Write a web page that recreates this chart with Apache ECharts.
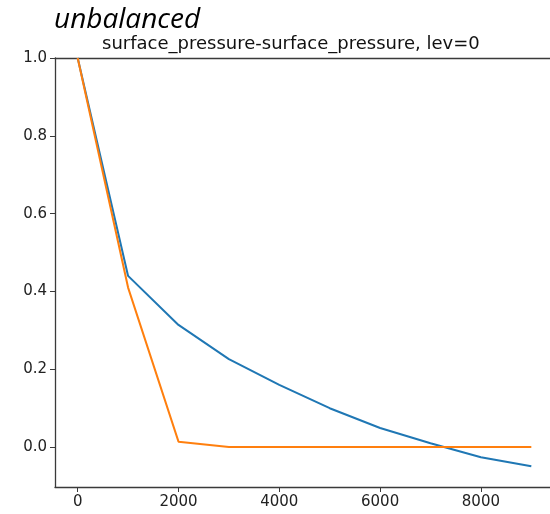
<!DOCTYPE html>
<html>
<head>
<meta charset="utf-8">
<script src="https://cdn.jsdelivr.net/npm/echarts@6/dist/echarts.min.js"></script>
<style>html,body{margin:0;padding:0;background:#fff}#c{width:550px;height:514px}</style>
</head>
<body>
<div id="c"></div>
<script>
const xValues = [0, 1000, 2000, 3000, 4000, 5000, 6000, 7000, 8000, 9000];
const blueValues = [1.0, 0.44, 0.314, 0.226, 0.16, 0.10, 0.049, 0.01, -0.026, -0.049];
const orangeValues = [1.0, 0.41, 0.014, 0.0, 0.0, 0.0, 0.0, 0.0, 0.0, 0.0];
const xTicks = [0, 2000, 4000, 6000, 8000];
const yTicks = [0.0, 0.2, 0.4, 0.6, 0.8, 1.0];
const mainTitle = 'unbalanced';
const subTitle = 'surface_pressure-surface_pressure, lev=0';

const spine = {color: '#3a3a3a', width: 1.3};
const chart = echarts.init(document.getElementById('c'), null, {renderer: 'canvas'});
const pairs = v => xValues.map((x, i) => [x, v[i]]);
chart.setOption({
  animation: false,
  backgroundColor: '#fff',
  title: [
    {text: mainTitle, left: 54, top: 6, padding: 0,
     textStyle: {fontFamily: 'Open Sans', fontStyle: 'italic', fontWeight: 'normal', fontSize: 28, color: '#000'}},
    {text: subTitle, left: 102, top: 35, padding: 0,
     textStyle: {fontFamily: 'DejaVu Sans', fontWeight: 'normal', fontSize: 18, color: '#111'}}
  ],
  grid: {left: 55, top: 58, width: 499, height: 429, outerBoundsMode: 'none', containLabel: false, show: false},
  xAxis: [{
    type: 'value', min: -450, max: 9450, position: 'bottom',
    axisLine: {show: true, onZero: false, lineStyle: spine},
    splitLine: {show: false},
    axisTick: {show: true, customValues: xTicks, length: 5, lineStyle: {color: '#3a3a3a'}},
    axisLabel: {customValues: xTicks, color: '#222', fontFamily: 'DejaVu Sans', fontSize: 15, margin: 8,
      formatter: v => String(v)}
  }, {
    type: 'value', min: -450, max: 9450, position: 'top',
    axisLine: {show: true, onZero: false, lineStyle: spine},
    splitLine: {show: false}, axisTick: {show: false}, axisLabel: {show: false}
  }],
  yAxis: {
    type: 'value', min: -0.1025, max: 1.0,
    axisLine: {show: true, onZero: false, lineStyle: spine},
    splitLine: {show: false},
    axisTick: {show: true, customValues: yTicks, length: 5, lineStyle: {color: '#3a3a3a'}},
    axisLabel: {customValues: yTicks, color: '#222', fontFamily: 'DejaVu Sans', fontSize: 15, margin: 8,
      formatter: v => v.toFixed(1)}
  },
  series: [
    {type: 'line', xAxisIndex: 0, data: pairs(blueValues), showSymbol: false, lineStyle: {color: '#1f77b4', width: 2}, itemStyle: {color: '#1f77b4'}},
    {type: 'line', xAxisIndex: 0, data: pairs(orangeValues), showSymbol: false, lineStyle: {color: '#ff7f0e', width: 2}, itemStyle: {color: '#ff7f0e'}}
  ]
});
</script>
</body>
</html>
